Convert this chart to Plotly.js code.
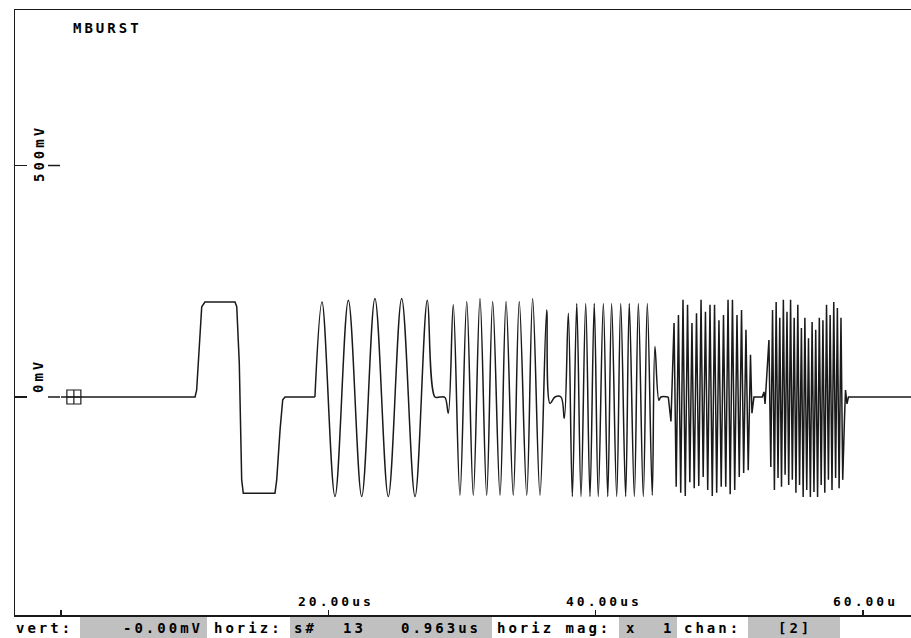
<!DOCTYPE html>
<html>
<head>
<meta charset="utf-8">
<script src="https://cdn.plot.ly/plotly-3.0.1.min.js"></script>
<style>
  html, body { margin: 0; padding: 0; background: #ffffff; overflow: hidden; }
  #chart { width: 911px; height: 638px; }
  .annotation-text { letter-spacing: 3px; }
</style>
</head>
<body>
<div id="chart"></div>
<script>
// ---------------- DATA (time in microseconds, amplitude in mV) ----------------
const chartTitle = 'MBURST';

// x-axis ticks
const xTickVals = [0, 20, 40, 60];
const xTickText = ['', '20.00us', '40.00us', '60.00u'];
// y-axis ticks
const yTickVals = [0, 500];
const yTickText = ['0mV', '500mV'];

// baseline + bar pulse (linear segments)
const pulseT = [0, 10.03, 10.15, 10.35, 10.53, 10.77, 13.02, 13.15, 13.34, 13.52, 13.64,
                16.01, 16.14, 16.39, 16.59, 16.76, 19.0];
const pulseV = [0, 0, 15, 123, 195, 205, 205, 195, 73, -179, -208,
                -208, -179, -71, -6, 0, 0];

// low-frequency bursts (smooth): burst 1, burst 2, burst 3
const lowBurstT = [19.0, 19.53, 20.50, 21.50, 22.50, 23.49, 24.49, 25.49, 26.49, 27.41,
                   27.98, 28.36, 28.73, 28.98,
                   29.35, 29.85, 30.36, 30.85, 31.35, 31.85, 32.30, 32.85, 33.30, 33.84,
                   34.29, 34.85, 35.29, 35.84, 36.34, 36.59, 36.96, 37.41, 37.66,
                   37.96, 38.26, 38.59, 38.91, 39.26, 39.58, 39.90, 40.20, 40.58, 40.91,
                   41.20, 41.58, 41.88, 42.25, 42.52, 42.90, 43.20, 43.57, 43.87, 44.24,
                   44.44, 44.74, 44.89, 45.44];
const lowBurstV = [0, 205, -215, 209, -215, 213, -215, 213, -215, 209,
                   0, 0, -1, -35,
                   199, -212, 206, -212, 213, -212, 206, -212, 206, -212,
                   206, -212, 213, -212, 188, -14, 0, 0, -46,
                   181, -215, 202, -215, 202, -215, 202, -215, 202, -215,
                   202, -215, 202, -215, 202, -215, 202, -215, 202, -212,
                   109, -7, 0, 0];

// high-frequency bursts (sample-like strokes): burst 4, burst 5, tail
const highBurstT = [45.44, 45.64,
                    45.87, 46.03, 46.20, 46.37, 46.54, 46.71, 46.88, 47.05, 47.21, 47.38,
                    47.55, 47.72, 47.89, 48.05, 48.22, 48.39, 48.56, 48.73, 48.90, 49.06,
                    49.23, 49.40, 49.57, 49.74, 49.91, 50.07, 50.24, 50.41, 50.58, 50.75,
                    50.92, 51.08, 51.25, 51.42, 51.59, 51.70, 51.85,
                    52.47, 52.60, 52.68,
                    52.97, 53.11, 53.24, 53.38, 53.51, 53.65, 53.78, 53.91, 54.05, 54.18,
                    54.32, 54.45, 54.59, 54.72, 54.86, 54.99, 55.13, 55.26, 55.40, 55.53,
                    55.66, 55.80, 55.93, 56.07, 56.20, 56.34, 56.47, 56.61, 56.74, 56.88,
                    57.01, 57.15, 57.28, 57.42, 57.55, 57.69, 57.82, 57.96, 58.09, 58.22,
                    58.36, 58.49, 58.62, 58.70, 58.81, 58.92, 63.7];
const highBurstV = [0, -53,
                    160, -194, 177, -207, 210, -214, 199, -184, 160, -197,
                    181, -192, 210, -173, 184, -201, 199, -214, 199, -207,
                    166, -194, 177, -194, 210, -210, 210, -201, 177, -173,
                    188, -164, 145, -158, 91, -35, 0,
                    0, 11, -15,
                    123, -151, 188, -201, 205, -175, 171, -194, 210, -168,
                    184, -190, 210, -179, 171, -207, 199, -190, 149, -216,
                    171, -201, 127, -216, 162, -205, 145, -216, 171, -190,
                    166, -207, 199, -179, 177, -201, 205, -175, 192, -197,
                    171, -179, -50, 15, -15, 0, 0];

// cursor (from readout: s# 13 at 0.963us, -0.00mV)
const cursorT = [0.963];
const cursorV = [0];

// status bar texts
const statusTexts = ['vert:', '-0.00mV', 'horiz:', 's#', '13', '0.963us', 'horiz mag:', 'x', '1', 'chan:', '[2]'];

// ---------------- LAYOUT CONSTANTS (pixels) ----------------
const W = 911, H = 638;
const PL = 15, PT = 10, PR = 0, PB = 23;
const PW = W - PL - PR, PH = H - PT - PB;
const px = x => (x - PL) / PW;
const py = y => 1 - (y - PT) / PH;

const X_RANGE = [-3.442, 63.60];
const Y_RANGE = [-470.9, 835.9];

const statusLeft = [15, 122, 213, 293, 342, 400, 496, 625, 662, 683, 777];
const grayBoxes = [[80, 207], [290, 492], [619, 677], [748, 840]];
const STATUS_Y = 628;
const LINE_COLOR = '#1a1a1a';
const monoFont = 'DejaVu Sans Mono, Liberation Mono, monospace';

// ---------------- TRACES ----------------
const traceStyle = {color: LINE_COLOR, width: 1.5};
const traces = [
  {x: pulseT, y: pulseV, type: 'scatter', mode: 'lines', line: Object.assign({shape: 'linear'}, traceStyle), hoverinfo: 'skip'},
  {x: lowBurstT, y: lowBurstV, type: 'scatter', mode: 'lines', line: Object.assign({shape: 'spline', smoothing: 1}, traceStyle), hoverinfo: 'skip'},
  {x: highBurstT, y: highBurstV, type: 'scatter', mode: 'lines', line: Object.assign({shape: 'linear'}, traceStyle), hoverinfo: 'skip'},
  {x: cursorT, y: cursorV, type: 'scatter', mode: 'markers',
   marker: {symbol: 'square-cross-open', size: 14, color: LINE_COLOR, line: {width: 1.2, color: LINE_COLOR}}, hoverinfo: 'skip'}
];

// ---------------- ANNOTATIONS ----------------
const annotations = [];
// title
annotations.push({text: chartTitle, xref: 'paper', yref: 'paper', x: px(71), y: py(28),
  xanchor: 'left', yanchor: 'middle', showarrow: false,
  font: {family: monoFont, size: 14, weight: 'bold', color: '#000'}});
// y tick labels (rotated)
const yLabelCenters = [[38, 376], [39, 154]];
yTickText.forEach((t, i) => {
  annotations.push({text: t, xref: 'paper', yref: 'paper', x: px(yLabelCenters[i][0]), y: py(yLabelCenters[i][1]),
    xanchor: 'center', yanchor: 'middle', textangle: -90, showarrow: false,
    font: {family: monoFont, size: 14, weight: 'bold', color: '#000'}});
});
// x tick labels
xTickText.forEach((t, i) => {
  if (!t) return;
  annotations.push({text: t, xref: 'x', yref: 'paper', x: xTickVals[i], xshift: -32, y: py(601),
    xanchor: 'left', yanchor: 'middle', showarrow: false,
    font: {family: monoFont, size: 13, weight: 'bold', color: '#000'}});
});
// status bar
statusTexts.forEach((t, i) => {
  annotations.push({text: t, xref: 'paper', yref: 'paper', x: px(statusLeft[i]) - 1.5 / PW, y: py(STATUS_Y),
    xanchor: 'left', yanchor: 'middle', showarrow: false,
    font: {family: monoFont, size: 14, weight: 'bold', color: '#000'}});
});

// ---------------- SHAPES ----------------
const shapes = [];
grayBoxes.forEach(b => {
  shapes.push({type: 'rect', xref: 'paper', yref: 'paper', x0: px(b[0]), x1: px(b[1]),
    y0: py(617), y1: py(645), fillcolor: '#c0c0c0', line: {width: 0}, layer: 'below'});
});
// second dash of y ticks (to the right of the rotated labels)
yTickVals.forEach(v => {
  shapes.push({type: 'line', xref: 'paper', yref: 'y', x0: px(48), x1: px(60), y0: v, y1: v,
    line: {color: LINE_COLOR, width: 1.5}});
});

const layout = {
  width: W, height: H,
  margin: {l: PL, r: PR, t: PT, b: PB, pad: 0},
  paper_bgcolor: '#ffffff', plot_bgcolor: '#ffffff',
  showlegend: false,
  xaxis: {range: X_RANGE, showgrid: false, zeroline: false, showline: true, mirror: true,
          linecolor: LINE_COLOR, linewidth: 1.5, ticks: 'inside', ticklen: 5, tickwidth: 1.5,
          tickcolor: LINE_COLOR, tickvals: xTickVals, showticklabels: false, fixedrange: true},
  yaxis: {range: Y_RANGE, showgrid: false, zeroline: false, showline: true, mirror: false,
          linecolor: LINE_COLOR, linewidth: 1.5, ticks: 'inside', ticklen: 12, tickwidth: 1.5,
          tickcolor: LINE_COLOR, tickvals: yTickVals, showticklabels: false, fixedrange: true},
  annotations: annotations,
  shapes: shapes
};

Plotly.newPlot('chart', traces, layout, {displayModeBar: false, staticPlot: true});
</script>
</body>
</html>
